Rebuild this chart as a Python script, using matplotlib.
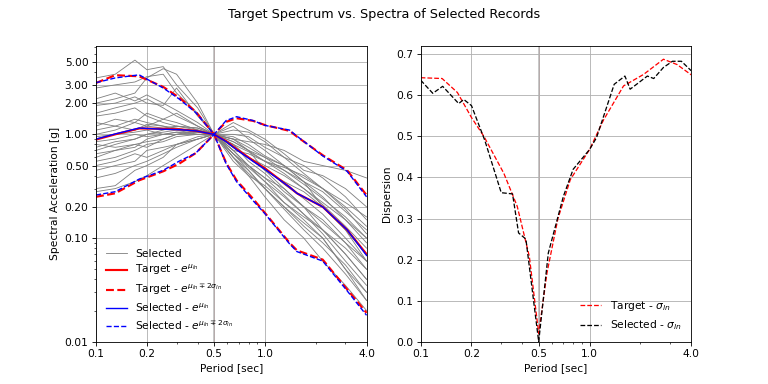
import numpy as np
import matplotlib
matplotlib.use('Agg')
import matplotlib.pyplot as plt
from matplotlib.ticker import FixedLocator, FormatStrFormatter, NullFormatter

# Periodos de los registros
periodos = [0.1, 0.13, 0.17, 0.2, 0.25, 0.3, 0.4, 0.5, 0.65, 0.8, 1.0, 1.3, 1.7, 2.2, 3.0, 4.0]

# Espectros escalados de los registros seleccionados
registros = [
    [3.5, 3.8, 5.2, 4.2, 4.5, 3.0, 1.8, 1.0, 0.9, 0.7, 0.45, 0.3, 0.2, 0.12, 0.07, 0.04],
    [2.0, 2.2, 2.5, 3.5, 4.3, 3.8, 2.0, 1.0, 1.2, 0.9, 0.7, 0.5, 0.35, 0.2, 0.12, 0.06],
    [1.9, 2.0, 2.3, 2.0, 1.9, 2.8, 1.5, 1.0, 0.6, 0.4, 0.25, 0.15, 0.1, 0.06, 0.035, 0.02],
    [0.3, 0.32, 0.45, 0.5, 0.6, 0.8, 0.9, 1.0, 0.9, 0.85, 0.8, 0.7, 0.55, 0.5, 0.45, 0.38],
    [0.55, 0.6, 0.7, 0.8, 0.85, 0.95, 1.0, 1.0, 1.3, 1.1, 0.9, 0.65, 0.45, 0.4, 0.3, 0.2],
    [1.5, 1.6, 1.8, 1.5, 1.3, 1.2, 1.15, 1.0, 0.7, 0.5, 0.35, 0.22, 0.15, 0.1, 0.05, 0.025],
    [0.8, 0.75, 0.8, 0.85, 0.9, 1.0, 1.05, 1.0, 0.75, 0.6, 0.5, 0.4, 0.3, 0.22, 0.15, 0.1],
    [1.2, 1.4, 1.3, 1.6, 1.4, 1.3, 1.1, 1.0, 0.6, 0.45, 0.3, 0.2, 0.13, 0.09, 0.055, 0.03],
    [0.38, 0.42, 0.5, 0.55, 0.65, 0.75, 0.9, 1.0, 0.85, 0.7, 0.6, 0.45, 0.35, 0.28, 0.18, 0.12],
    [0.9, 1.0, 1.1, 1.25, 1.2, 1.15, 1.05, 1.0, 0.8, 0.55, 0.42, 0.28, 0.2, 0.15, 0.09, 0.05],
    [0.6, 0.7, 0.8, 0.75, 0.9, 1.0, 1.1, 1.0, 0.7, 0.65, 0.55, 0.48, 0.4, 0.3, 0.2, 0.13],
    [2.2, 2.5, 2.1, 2.4, 2.0, 1.7, 1.3, 1.0, 0.65, 0.48, 0.35, 0.25, 0.17, 0.11, 0.06, 0.035],
    [0.45, 0.5, 0.55, 0.7, 0.75, 0.8, 0.95, 1.0, 1.1, 1.05, 0.85, 0.6, 0.42, 0.3, 0.19, 0.11],
    [1.0, 1.1, 1.3, 1.2, 1.4, 1.6, 1.2, 1.0, 0.55, 0.4, 0.32, 0.22, 0.16, 0.12, 0.08, 0.05],
    [0.7, 0.8, 0.9, 1.0, 1.05, 1.1, 1.1, 1.0, 0.8, 0.68, 0.55, 0.42, 0.3, 0.21, 0.13, 0.08],
    [0.5, 0.55, 0.65, 0.6, 0.7, 0.8, 0.9, 1.0, 0.95, 0.8, 0.62, 0.5, 0.35, 0.25, 0.15, 0.09],
    [1.6, 1.8, 2.0, 2.2, 1.8, 1.5, 1.2, 1.0, 0.7, 0.5, 0.38, 0.3, 0.2, 0.14, 0.09, 0.06],
    [0.85, 0.9, 1.0, 0.95, 1.0, 1.05, 1.05, 1.0, 0.9, 0.75, 0.6, 0.5, 0.38, 0.3, 0.22, 0.16],
    [0.65, 0.7, 0.75, 0.9, 1.0, 1.05, 1.0, 1.0, 0.6, 0.42, 0.3, 0.19, 0.12, 0.08, 0.045, 0.025],
    [1.3, 1.2, 1.1, 1.2, 1.15, 1.2, 1.1, 1.0, 0.75, 0.6, 0.45, 0.35, 0.28, 0.2, 0.12, 0.07],
    [0.28, 0.3, 0.35, 0.4, 0.5, 0.6, 0.8, 1.0, 1.0, 0.95, 0.75, 0.6, 0.5, 0.38, 0.25, 0.15],
    [1.1, 1.2, 1.4, 1.3, 1.2, 1.1, 1.0, 1.0, 0.65, 0.5, 0.38, 0.26, 0.17, 0.12, 0.07, 0.04],
    [0.75, 0.85, 0.9, 1.0, 1.1, 1.2, 1.15, 1.0, 0.8, 0.6, 0.48, 0.33, 0.24, 0.17, 0.1, 0.06],
    [2.8, 3.0, 3.2, 3.6, 3.8, 2.5, 1.6, 1.0, 0.65, 0.45, 0.3, 0.2, 0.14, 0.1, 0.05, 0.03],
    [0.95, 1.0, 1.05, 1.1, 1.0, 1.0, 1.0, 1.0, 0.85, 0.7, 0.55, 0.45, 0.33, 0.24, 0.16, 0.1],
]

# Espectro objetivo (media y +/- 2 sigma)
T_obj = [0.1, 0.13, 0.18, 0.25, 0.31, 0.39, 0.5, 0.59, 0.68, 0.85, 1.0, 1.4, 1.55, 2.2, 3.07, 4.0]
media_obj = [0.89, 1.0, 1.14, 1.13, 1.12, 1.08, 1.0, 0.86, 0.72, 0.56, 0.47, 0.31, 0.27, 0.2, 0.12, 0.07]
sup_obj = [3.13, 3.72, 3.63, 2.87, 2.27, 1.65, 1.0, 1.32, 1.43, 1.35, 1.23, 1.08, 0.95, 0.63, 0.45, 0.26]
inf_obj = [0.25, 0.27, 0.36, 0.44, 0.52, 0.66, 1.0, 0.53, 0.36, 0.24, 0.175, 0.09, 0.076, 0.062, 0.032, 0.019]

# Espectro de los seleccionados (media y +/- 2 sigma)
media_sel = [0.9, 1.01, 1.15, 1.12, 1.11, 1.08, 1.0, 0.85, 0.71, 0.55, 0.46, 0.31, 0.27, 0.2, 0.12, 0.068]
sup_sel = [3.15, 3.5, 3.75, 2.8, 2.2, 1.62, 1.0, 1.36, 1.48, 1.36, 1.22, 1.1, 0.96, 0.62, 0.44, 0.25]
inf_sel = [0.26, 0.28, 0.37, 0.45, 0.55, 0.66, 1.0, 0.52, 0.35, 0.23, 0.172, 0.088, 0.074, 0.06, 0.031, 0.018]

# Dispersion
T_sig_obj = [0.1, 0.134, 0.165, 0.2, 0.237, 0.311, 0.373, 0.44, 0.5, 0.56, 0.65, 0.77, 1.0, 1.21, 1.59, 2.09, 2.74, 3.3, 4.0]
sig_obj = [0.643, 0.641, 0.607, 0.546, 0.50, 0.41, 0.33, 0.208, 0.02, 0.168, 0.30, 0.395, 0.468, 0.54, 0.623, 0.651, 0.688, 0.675, 0.65]
T_sig_sel = [0.1, 0.118, 0.135, 0.168, 0.18, 0.2, 0.24, 0.3, 0.35, 0.38, 0.42, 0.5, 0.57, 0.7, 0.8, 1.0, 1.1,
             1.4, 1.62, 1.74, 2.2, 2.4, 2.74, 3.1, 3.5, 4.0]
sig_sel = [0.637, 0.605, 0.622, 0.58, 0.59, 0.575, 0.49, 0.363, 0.36, 0.265, 0.25, 0.0, 0.216, 0.354, 0.42,
           0.468, 0.497, 0.627, 0.647, 0.615, 0.647, 0.641, 0.668, 0.683, 0.683, 0.66]

fig, (ax1, ax2) = plt.subplots(1, 2, figsize=(10, 5), dpi=76.8)
fig.suptitle('Target Spectrum vs. Spectra of Selected Records', fontsize=12)

# Panel izquierdo: espectros
for i, reg in enumerate(registros):
    ax1.plot(periodos, reg, color='gray', lw=0.8, label='Selected' if i == 0 else None)
ax1.plot(T_obj, media_obj, color='red', lw=2, label=r'Target - $e^{\mu_{ln}}$')
ax1.plot(T_obj, sup_obj, color='red', lw=2, ls='--', label=r'Target - $e^{\mu_{ln}\mp 2\sigma_{ln}}$')
ax1.plot(T_obj, inf_obj, color='red', lw=2, ls='--')
ax1.plot(T_obj, media_sel, color='blue', lw=1.3, label=r'Selected - $e^{\mu_{ln}}$')
ax1.plot(T_obj, sup_sel, color='blue', lw=1.3, ls='--', label=r'Selected - $e^{\mu_{ln}\mp 2\sigma_{ln}}$')
ax1.plot(T_obj, inf_sel, color='blue', lw=1.3, ls='--')
ax1.set_xscale('log')
ax1.set_yscale('log')
ax1.set_xlim(0.1, 4.0)
ax1.set_ylim(0.01, 7.1)
ax1.yaxis.set_major_locator(FixedLocator([0.01, 0.1, 0.2, 0.5, 1.0, 2.0, 3.0, 5.0]))
ax1.yaxis.set_major_formatter(FormatStrFormatter('%.2f'))
ax1.yaxis.set_minor_formatter(NullFormatter())
ax1.set_ylabel('Spectral Acceleration [g]')
ax1.legend(loc='lower left', frameon=False, labelspacing=0.4)

# Panel derecho: dispersion
ax2.plot(T_sig_obj, sig_obj, color='red', lw=1.2, ls='--', label=r'Target - $\sigma_{ln}$')
ax2.plot(T_sig_sel, sig_sel, color='black', lw=1.2, ls='--', label=r'Selected - $\sigma_{ln}$')
ax2.set_xscale('log')
ax2.set_xlim(0.1, 4.0)
ax2.set_ylim(0, 0.72)
ax2.set_ylabel('Dispersion')
ax2.legend(loc='lower right', frameon=False)

for ax in (ax1, ax2):
    ax.xaxis.set_major_locator(FixedLocator([0.1, 0.2, 0.5, 1.0, 4.0]))
    ax.xaxis.set_major_formatter(FormatStrFormatter('%.1f'))
    ax.xaxis.set_minor_formatter(NullFormatter())
    ax.set_xlabel('Period [sec]')
    ax.grid(True, which='major')
    ax.axvline(0.5, color='gray', lw=1.6, alpha=0.5, zorder=1)
    ax.axvline(0.5, color='red', lw=0.8, alpha=0.3, zorder=1)

plt.savefig('out.png')
